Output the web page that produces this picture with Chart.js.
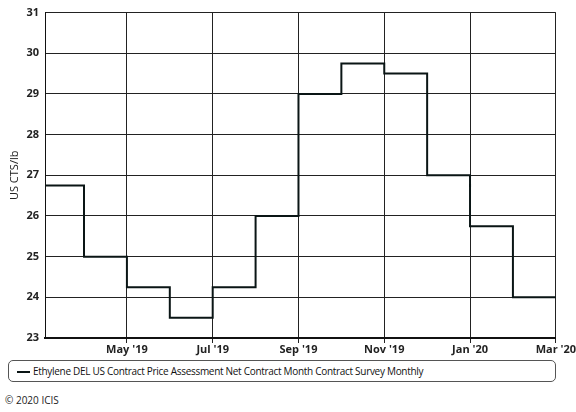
<!DOCTYPE html>
<html>
<head>
<meta charset="utf-8">
<script src="https://cdn.jsdelivr.net/npm/chart.js@4/dist/chart.umd.min.js"></script>
<style>
  html, body { margin: 0; padding: 0; background: #fff; }
  body { width: 576px; height: 412px; position: relative; overflow: hidden; font-family: "Open Sans", "DejaVu Sans", sans-serif; }
  #wrap { position: absolute; left: 0; top: 0; width: 576px; height: 356px; }
  #legend {
    position: absolute; left: 8px; top: 360px; width: 548px; height: 22px;
    border: 1px solid #555; border-radius: 5px; box-sizing: border-box;
    font-size: 10px; color: #111; line-height: 20px;
  }
  #legend .swatch { position: absolute; left: 8px; top: 10px; width: 13px; height: 2px; background: #0a1515; }
  #legend .txt { position: absolute; left: 24px; top: 0; white-space: nowrap; letter-spacing: -0.3px; }
  #credit { position: absolute; left: 5px; top: 393px; font-size: 10px; color: #222; }
</style>
</head>
<body>
<div id="wrap"><canvas id="priceChart"></canvas></div>
<div id="legend"><span class="swatch"></span><span class="txt">Ethylene DEL US Contract Price Assessment Net Contract Month Contract Survey Monthly</span></div>
<div id="credit">&copy; 2020 ICIS</div>
<script>
  // Monthly contract price, Mar '19 .. Feb '20 (index 0 = Mar '19), plus end point Mar '20
  var monthIndex = [0, 1, 2, 3, 4, 5, 6, 7, 8, 9, 10, 11, 12];
  var prices = [26.75, 25.0, 24.25, 23.5, 24.25, 26.0, 29.0, 29.75, 29.5, 27.0, 25.75, 24.0, 24.0];
  var tickMonths = [2, 4, 6, 8, 10, 12];
  var tickLabels = ["May '19", "Jul '19", "Sep '19", "Nov '19", "Jan '20", "Mar '20"];
  var seriesLabel = 'Ethylene DEL US Contract Price Assessment Net Contract Month Contract Survey Monthly';

  var points = monthIndex.map(function(m, i) {
    return { x: m, y: prices[i] };
  });

  var gridColor = '#222';
  var tickFont = { family: '"Open Sans", "DejaVu Sans", sans-serif', size: 11, weight: 'bold' };

  var ctx = document.getElementById('priceChart').getContext('2d');
  new Chart(ctx, {
    type: 'line',
    data: {
      datasets: [{
        label: seriesLabel,
        data: points,
        stepped: true,
        borderColor: '#0a1515',
        borderWidth: 2,
        pointRadius: 0,
        fill: false
      }]
    },
    options: {
      responsive: true,
      maintainAspectRatio: false,
      animation: false,
      layout: { padding: { top: 9, right: 19, left: 0, bottom: 0 } },
      plugins: {
        legend: { display: false },
        tooltip: { enabled: false }
      },
      scales: {
        x: {
          type: 'linear',
          min: 0.09,
          max: 12,
          afterBuildTicks: function(scale) {
            scale.ticks = tickMonths.map(function(v) { return { value: v }; });
          },
          afterFit: function(scale) { scale.height = 18; },
          grid: { color: gridColor, lineWidth: 1, drawTicks: true, tickLength: 5, tickColor: gridColor },
          border: { color: '#111', width: 2 },
          ticks: {
            color: '#222',
            font: tickFont,
            padding: 0,
            maxRotation: 0,
            autoSkip: false,
            callback: function(value) {
              var idx = tickMonths.indexOf(value);
              return idx >= 0 ? tickLabels[idx] : '';
            }
          }
        },
        y: {
          min: 23,
          max: 31,
          afterFit: function(scale) { scale.width = 45; },
          grid: { color: gridColor, lineWidth: 1, drawTicks: false },
          border: { color: '#111', width: 1 },
          title: {
            display: true,
            text: 'US CTS/lb',
            color: '#222',
            font: { family: '"Open Sans", "DejaVu Sans", sans-serif', size: 11 },
            padding: { top: 8, bottom: 0 }
          },
          ticks: {
            stepSize: 1,
            color: '#222',
            font: tickFont,
            padding: 6
          }
        }
      }
    }
  });
</script>
</body>
</html>
